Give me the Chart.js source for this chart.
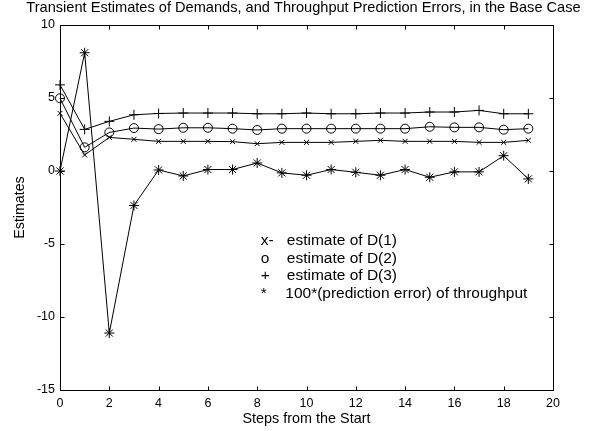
<!DOCTYPE html>
<html>
<head>
    <title>Transient Estimates</title>
    <script src="https://cdn.jsdelivr.net/npm/chart.js@4.4.1/dist/chart.umd.min.js"></script>
    <style>
        html, body { margin: 0; padding: 0; background: #fff; }
        #plot { display: block; }
    </style>
</head>
<body>
    <canvas id="plot" width="600" height="431"></canvas>

    <script>
        // Steps and estimates
        const steps = [0, 1, 2, 3, 4, 5, 6, 7, 8, 9, 10, 11, 12, 13, 14, 15, 16, 17, 18, 19];
        const estD1 = [3.95, 1.1, 2.3, 2.17, 2.03, 2.03, 2.03, 2.01, 1.87, 1.96, 1.96, 1.96, 2.03, 2.1, 2.03, 2.03, 2.03, 1.96, 1.96, 2.1];
        const estD2 = [4.98, 1.62, 2.64, 2.94, 2.87, 2.96, 2.96, 2.9, 2.81, 2.9, 2.9, 2.9, 2.9, 2.9, 2.9, 3.03, 2.99, 2.99, 2.83, 2.9];
        const estD3 = [5.9, 2.85, 3.4, 3.85, 3.94, 3.97, 3.97, 3.97, 3.92, 3.92, 3.97, 3.92, 3.92, 3.97, 3.97, 4.04, 4.04, 4.15, 3.92, 3.92];
        const predErr = [0, 8.1, -11.1, -2.36, 0.07, -0.34, 0.1, 0.1, 0.55, -0.13, -0.29, 0.1, -0.09, -0.29, 0.1, -0.43, -0.06, -0.06, 1.05, -0.54];

        const xTicks = [0, 2, 4, 6, 8, 10, 12, 14, 16, 18, 20];
        const yTicks = [-15, -10, -5, 0, 5, 10];

        const noteMarks = ['x-', 'o', '+', '*'];
        const noteTexts = ['estimate of D(1)', 'estimate of D(2)', 'estimate of D(3)', '100*(prediction error) of throughput'];

        const FONT = "'Liberation Sans', Arial, sans-serif";

        function toPoints(ys) {
            return ys.map((y, i) => ({ x: steps[i], y: y }));
        }

        function series(ys, style, r) {
            return {
                data: toPoints(ys),
                borderColor: '#000',
                borderWidth: 1,
                pointStyle: style,
                pointRadius: r,
                pointBorderColor: '#000',
                pointBackgroundColor: 'rgba(0,0,0,0)',
                pointBorderWidth: 1,
                tension: 0,
                clip: false
            };
        }

        // box, inward ticks, title and the text note inside the axes
        const framePlugin = {
            id: 'frame',
            afterDatasetsDraw(chart) {
                const ctx = chart.ctx;
                const a = chart.chartArea;
                const xs = chart.scales.x;
                const ys = chart.scales.y;
                const L = Math.round(a.left) + 0.5, R = Math.round(a.right) + 0.5;
                const T = Math.round(a.top) + 0.5, B = Math.round(a.bottom) + 0.5;
                const tl = 4;
                ctx.save();
                ctx.strokeStyle = '#000';
                ctx.lineWidth = 1;
                ctx.strokeRect(L, T, R - L, B - T);
                ctx.beginPath();
                xTicks.forEach(v => {
                    const px = Math.round(xs.getPixelForValue(v)) + 0.5;
                    ctx.moveTo(px, B); ctx.lineTo(px, B - tl);
                    ctx.moveTo(px, T); ctx.lineTo(px, T + tl);
                });
                yTicks.forEach(v => {
                    const py = Math.round(ys.getPixelForValue(v)) + 0.5;
                    ctx.moveTo(L, py); ctx.lineTo(L + tl, py);
                    ctx.moveTo(R, py); ctx.lineTo(R - tl, py);
                });
                ctx.stroke();

                // title
                ctx.fillStyle = '#000';
                ctx.font = '14.6px ' + FONT;
                ctx.textAlign = 'center';
                ctx.textBaseline = 'middle';
                ctx.fillText('Transient Estimates of Demands, and Throughput Prediction Errors, in the Base Case',
                    (a.left + a.right) / 2 - 3, 8);

                // note lines
                ctx.font = '15.5px ' + FONT;
                ctx.textAlign = 'left';
                const tx = xs.getPixelForValue(9.2);
                const ty = ys.getPixelForValue(-4.76);
                noteTexts.forEach((t, i) => {
                    const y = ty + i * 17.8;
                    ctx.fillText(noteMarks[i], tx - 26, y);
                    ctx.fillText(t, tx - (i === 3 ? 1.5 : 0), y);
                });
                ctx.restore();
            }
        };

        const ctx = document.getElementById('plot').getContext('2d');
        const chart = new Chart(ctx, {
            type: 'line',
            data: {
                datasets: [
                    series(estD1, 'crossRot', 3.5),
                    series(estD2, 'circle', 4.5),
                    series(estD3, 'cross', 5),
                    series(predErr, 'star', 5)
                ]
            },
            options: {
                responsive: false,
                animation: false,
                devicePixelRatio: 1,
                layout: { padding: { top: 25, right: 47, left: 0, bottom: 0 } },
                plugins: {
                    legend: { display: false },
                    tooltip: { enabled: false }
                },
                scales: {
                    x: {
                        type: 'linear',
                        min: 0,
                        max: 20,
                        afterFit(s) { s.height = 41; },
                        afterBuildTicks(s) { s.ticks = xTicks.map(v => ({ value: v })); },
                        grid: { display: false, drawTicks: false },
                        border: { display: false },
                        ticks: { color: '#000', padding: 6, maxRotation: 0, font: { family: FONT, size: 12.5 } },
                        title: {
                            display: true,
                            text: 'Steps from the Start',
                            color: '#000',
                            padding: { top: 0, bottom: 3 },
                            font: { family: FONT, size: 14.4 }
                        }
                    },
                    y: {
                        type: 'linear',
                        min: -15,
                        max: 10,
                        afterFit(s) { s.width = 60; },
                        afterBuildTicks(s) { s.ticks = yTicks.map(v => ({ value: v })); },
                        grid: { display: false, drawTicks: false },
                        border: { display: false },
                        ticks: { color: '#000', padding: 5, font: { family: FONT, size: 12.5 } },
                        title: {
                            display: true,
                            text: 'Estimates',
                            color: '#000',
                            padding: { top: 12, bottom: 0 },
                            font: { family: FONT, size: 14.2 }
                        }
                    }
                }
            },
            plugins: [framePlugin]
        });
    </script>
</body>
</html>
